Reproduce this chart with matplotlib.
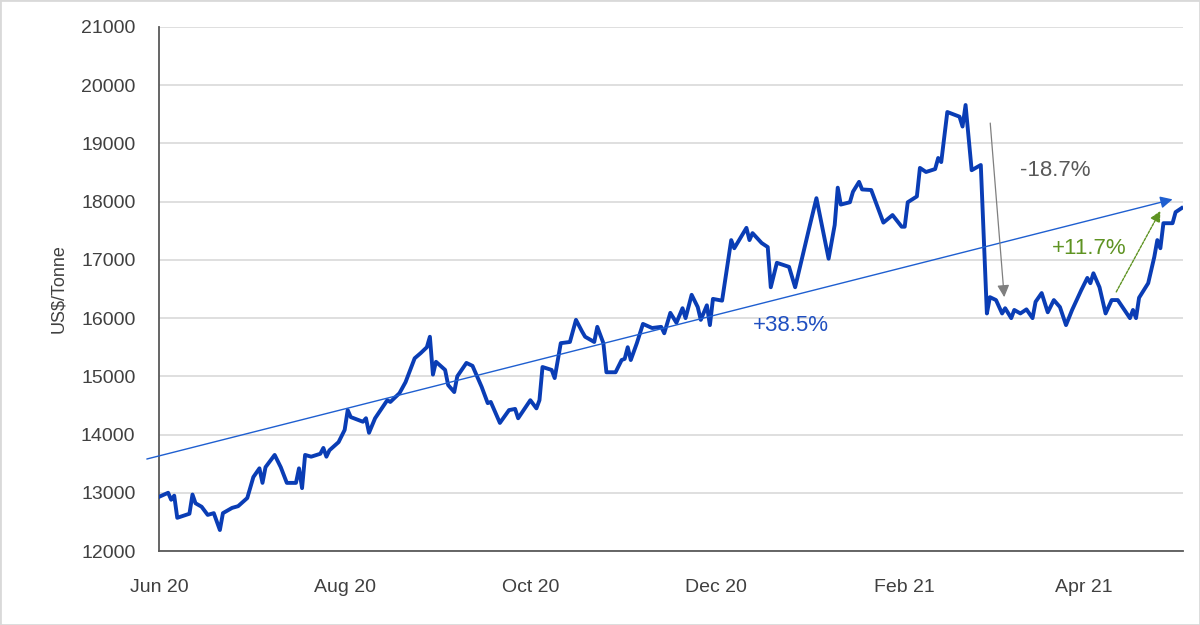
import numpy as np
import matplotlib
matplotlib.use("Agg")
import matplotlib.pyplot as plt
import matplotlib.dates as mdates
from matplotlib.patches import Rectangle

plt.rcParams['font.family'] = ['Liberation Sans', 'DejaVu Sans']

# price series: days after 1 Jun 2020 and US$/tonne
start = np.datetime64('2020-06-01')
day_offset = [0, 3, 4, 5, 6, 10, 11, 12, 14, 16, 18, 20, 21, 24, 26, 29, 31, 33, 34, 35,
              38, 40, 42, 45, 46, 47, 48, 50, 53, 54, 55, 56, 59, 61, 62, 63, 67, 68, 69, 71,
              74, 75, 76, 79, 81, 84, 86, 88, 89, 90, 91, 94, 95, 97, 98, 101, 103, 106, 108, 109,
              112, 115, 117, 118, 122, 124, 125, 126, 129, 130, 132, 135, 137, 139, 140, 143, 144, 146, 147, 150,
              152, 153, 154, 155, 157, 159, 162, 165, 166, 168, 170, 172, 173, 175, 177, 178, 180, 181, 182, 185,
              188, 189, 193, 194, 195, 198, 200, 201, 203, 207, 209, 214, 216, 220, 222, 223, 224, 227, 228, 230,
              231, 234, 238, 241, 244, 245, 246, 249, 250, 252, 255, 256, 257, 259, 263, 264, 265, 267, 270, 272,
              273, 275, 277, 278, 280, 281, 283, 285, 287, 288, 290, 292, 294, 296, 298, 300, 303, 305, 306, 307,
              309, 311, 313, 315, 319, 320, 321, 322, 325, 327, 328, 329, 330, 331, 333, 334, 336]
price = [12930, 13000, 12880, 12950, 12570, 12640, 12970, 12820, 12760, 12620, 12650, 12360, 12650, 12740, 12770, 12910, 13270, 13420, 13170, 13440,
         13650, 13440, 13170, 13170, 13420, 13080, 13650, 13620, 13670, 13770, 13620, 13730, 13870, 14080, 14420, 14300, 14220, 14280, 14030, 14280,
         14510, 14590, 14560, 14710, 14900, 15310, 15400, 15500, 15680, 15030, 15250, 15110, 14850, 14730, 15000, 15230, 15180, 14820, 14540, 14560,
         14200, 14420, 14440, 14280, 14590, 14450, 14590, 15160, 15110, 14970, 15570, 15590, 15970, 15770, 15680, 15590, 15850, 15570, 15070, 15070,
         15280, 15300, 15500, 15280, 15570, 15900, 15830, 15850, 15740, 16090, 15920, 16170, 16000, 16400, 16190, 15970, 16220, 15880, 16330, 16300,
         17340, 17200, 17550, 17340, 17460, 17290, 17220, 16530, 16950, 16880, 16530, 17630, 18060, 17020, 17600, 18240, 17950, 17990, 18170, 18340,
         18210, 18200, 17640, 17770, 17570, 17570, 17990, 18090, 18580, 18510, 18560, 18750, 18680, 19540, 19460, 19290, 19660, 18540, 18630, 16080,
         16360, 16310, 16080, 16170, 16000, 16140, 16080, 16150, 16000, 16280, 16430, 16100, 16310, 16190, 15880, 16140, 16480, 16690, 16600, 16770,
         16530, 16080, 16310, 16310, 16000, 16140, 16000, 16350, 16600, 17050, 17340, 17200, 17630, 17630, 17630, 17820, 17890]

# annotation arrows: (start day, start value, end day, end value)
trend_arrow = (-4.0, 13580, 333.0, 18040)
drop_arrow = (273.1, 19350, 277.7, 16360)
rebound_arrow = (314.5, 16450, 329.0, 17840)

dates = start + np.array(day_offset, dtype='timedelta64[D]')


def d(offset):
    return mdates.date2num(start) + offset


fig = plt.figure(figsize=(12, 6.25), dpi=100)
ax = fig.add_axes([0.1325, 0.1184, 0.8535, 0.8384])

ax.plot(dates, price, color='#0a3db5', lw=2.8, solid_joinstyle='round', zorder=3)

ax.set_ylim(12000, 21000)
ax.set_yticks(np.arange(12000, 21001, 1000))
ax.set_xlim(d(0), d(336.5))
ax.xaxis.set_major_locator(mdates.MonthLocator(bymonth=[2, 4, 6, 8, 10, 12]))
ax.xaxis.set_major_formatter(mdates.DateFormatter('%b %y'))

ax.grid(axis='y', color='#dcdcdc', lw=1.3)
ax.set_axisbelow(True)
for s in ['top', 'right']:
    ax.spines[s].set_visible(False)
for s in ['left', 'bottom']:
    ax.spines[s].set_color('#595959')
    ax.spines[s].set_linewidth(1.3)
ax.tick_params(axis='both', length=0, labelsize=14, colors='#404040')
ax.tick_params(axis='x', pad=20)
ax.tick_params(axis='y', pad=17)
ax.set_ylabel('US$/Tonne', fontsize=13, color='#404040', labelpad=10, parse_math=False)

# trend line with arrow head
x0, y0, x1, y1 = trend_arrow
ax.annotate('', xy=(d(x1), y1), xytext=(d(x0), y0), annotation_clip=False,
            arrowprops=dict(arrowstyle='-|>', color='#1f5fd0', lw=1.0,
                            mutation_scale=18, shrinkA=0, shrinkB=0))
x0, y0, x1, y1 = drop_arrow
ax.annotate('', xy=(d(x1), y1), xytext=(d(x0), y0),
            arrowprops=dict(arrowstyle='-|>', color='#7f7f7f', lw=0.9,
                            mutation_scale=18, shrinkA=0, shrinkB=0))
x0, y0, x1, y1 = rebound_arrow
ax.annotate('', xy=(d(x1), y1), xytext=(d(x0), y0),
            arrowprops=dict(arrowstyle='-|>', color='#5e9322', lw=1.0, linestyle=(0, (2, 1)),
                            mutation_scale=16, shrinkA=0, shrinkB=0))

ax.text(d(207.5), 15880, '+38.5%', fontsize=16, color='#1f4fc0', ha='center', va='center')
ax.text(d(294.5), 18530, '-18.7%', fontsize=16, color='#595959', ha='center', va='center')
ax.text(d(305.5), 17200, '+11.7%', fontsize=16, color='#5e9322', ha='center', va='center')

fig.patches.append(Rectangle((0, 0), 1, 1, transform=fig.transFigure, fill=False,
                             edgecolor='#d9d9d9', lw=2))

fig.savefig('out.png', dpi=100)
